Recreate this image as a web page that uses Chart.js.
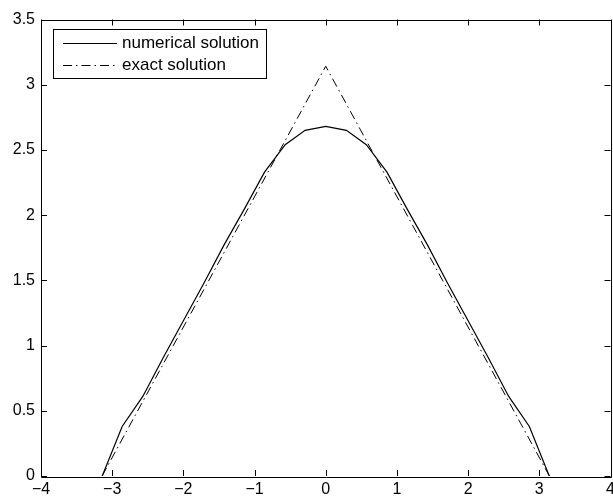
<!DOCTYPE html>
<html>
<head>
<meta charset="utf-8">
<script src="https://cdn.jsdelivr.net/npm/chart.js@4"></script>
<style>
html,body{margin:0;padding:0;background:#fff;}
#wrap{width:613px;height:500px;}
</style>
</head>
<body>
<div id="wrap"><canvas id="c" width="613" height="500"></canvas></div>
<script>
// numerical solution (knots)
const xNum = [-3.14,-2.86,-2.57,-2.28,-2.00,-1.71,-1.43,-1.14,-0.86,-0.57,-0.29,0,0.29,0.57,0.86,1.14,1.43,1.71,2.00,2.28,2.57,2.86,3.14];
const yNum = [0,0.38,0.61,0.91,1.19,1.48,1.77,2.05,2.33,2.54,2.65,2.68,2.65,2.54,2.33,2.05,1.77,1.48,1.19,0.91,0.61,0.38,0];
// exact solution
const xExact = [-3.1416,0,3.1416];
const yExact = [0,3.1416,0];
const seriesLabels = ['numerical solution','exact solution'];
const xTicks = [-4,-3,-2,-1,0,1,2,3,4];
const yTicks = [0,0.5,1,1.5,2,2.5,3,3.5];

const FONT = '"Liberation Sans", Arial, sans-serif';

const framePlugin = {
  id: 'frame',
  afterDraw(chart) {
    const ctx = chart.ctx;
    const a = chart.chartArea;
    const xs = chart.scales.x, ys = chart.scales.y;
    ctx.save();
    ctx.strokeStyle = '#000';
    ctx.lineWidth = 1;
    ctx.beginPath();
    ctx.rect(Math.round(a.left)+0.5, Math.round(a.top)+0.5, Math.round(a.right-a.left), Math.round(a.bottom-a.top));
    ctx.stroke();
    const L = 6;
    ctx.beginPath();
    xTicks.forEach(v => {
      const px = Math.round(xs.getPixelForValue(v))+0.5;
      ctx.moveTo(px, a.bottom); ctx.lineTo(px, a.bottom-L);
      ctx.moveTo(px, a.top); ctx.lineTo(px, a.top+L);
    });
    yTicks.forEach(v => {
      const py = Math.round(ys.getPixelForValue(v))+0.5;
      ctx.moveTo(a.left, py); ctx.lineTo(a.left+L, py);
      ctx.moveTo(a.right, py); ctx.lineTo(a.right-L, py);
    });
    ctx.stroke();
    ctx.fillStyle = '#000';
    ctx.font = '16px ' + FONT;
    ctx.textAlign = 'right';
    ctx.textBaseline = 'middle';
    yTicks.forEach(v => {
      ctx.fillText(String(v), a.left-6, ys.getPixelForValue(v));
    });
    ctx.textAlign = 'center';
    ctx.textBaseline = 'middle';
    xTicks.forEach(v => {
      const s = v < 0 ? '\u2212' + Math.abs(v) : String(v);
      ctx.fillText(s, xs.getPixelForValue(v), a.bottom+14);
    });
    // legend
    const bx = 53.5, by = 29.5, bw = 213, bh = 49;
    ctx.fillStyle = '#fff';
    ctx.fillRect(bx, by, bw, bh);
    ctx.strokeRect(bx, by, bw, bh);
    ctx.font = '17px ' + FONT;
    ctx.textAlign = 'left';
    ctx.textBaseline = 'middle';
    chart.data.datasets.forEach((ds, i) => {
      const y = 43.5 + i*22;
      ctx.save();
      ctx.setLineDash(ds.borderDash || []);
      ctx.beginPath();
      ctx.moveTo(63, y); ctx.lineTo(117, y);
      ctx.stroke();
      ctx.restore();
      ctx.fillStyle = '#000';
      ctx.fillText(ds.label, 122, y);
    });
    ctx.restore();
  }
};

new Chart(document.getElementById('c'), {
  type: 'scatter',
  data: {
    datasets: [
      {
        label: seriesLabels[0],
        data: xNum.map((x,i)=>({x:x, y:yNum[i]})),
        showLine: true, borderColor: '#000', borderWidth: 1.2,
        pointRadius: 0, fill: false, tension: 0
      },
      {
        label: seriesLabels[1],
        data: xExact.map((x,i)=>({x:x, y:yExact[i]})),
        showLine: true, borderColor: '#000', borderWidth: 1,
        borderDash: [9,4,1.5,4],
        pointRadius: 0, fill: false, tension: 0
      }
    ]
  },
  options: {
    responsive: false,
    animation: false,
    layout: { padding: { left: 41, right: 2.5, top: 19.5, bottom: 24 } },
    plugins: { legend: { display: false }, tooltip: { enabled: false } },
    scales: {
      x: { type: 'linear', min: -4, max: 4, display: false },
      y: { type: 'linear', min: 0, max: 3.5, display: false }
    }
  },
  plugins: [framePlugin]
});
</script>
</body>
</html>
